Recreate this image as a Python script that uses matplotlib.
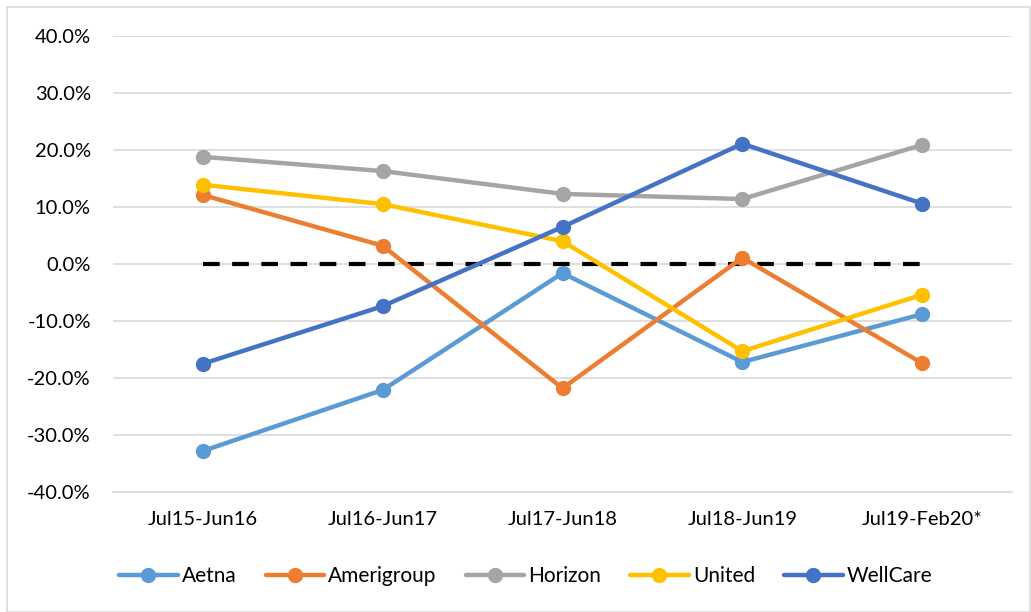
import matplotlib
matplotlib.use("Agg")
import matplotlib.pyplot as plt
from matplotlib.patches import Rectangle
from matplotlib.ticker import FuncFormatter

plt.rcParams['font.family'] = ['Lato', 'DejaVu Sans']

# data
periods = ["Jul15-Jun16", "Jul16-Jun17", "Jul17-Jun18", "Jul18-Jun19", "Jul19-Feb20*"]
aetna = [-32.8, -22.1, -1.6, -17.2, -8.8]
amerigroup = [12.1, 3.2, -21.8, 1.1, -17.4]
horizon = [18.8, 16.3, 12.3, 11.4, 20.9]
united = [13.9, 10.5, 4.0, -15.3, -5.4]
wellcare = [-17.5, -7.4, 6.5, 21.1, 10.6]
baseline = [0, 0, 0, 0, 0]

series = [
    ("Aetna", aetna, "#5B9BD5"),
    ("Amerigroup", amerigroup, "#ED7D31"),
    ("Horizon", horizon, "#A5A5A5"),
    ("United", united, "#FFC000"),
    ("WellCare", wellcare, "#4472C4"),
]

W, H = 1031, 612
fig = plt.figure(figsize=(W / 100, H / 100), dpi=100)
ax = fig.add_axes([113 / W, 1 - 492 / H, (1012 - 113) / W, (492 - 36) / H])

x = list(range(len(periods)))
handles = []
for name, vals, col in series:
    h, = ax.plot(x, vals, color=col, lw=3.2, marker='o', ms=10, label=name,
                 solid_capstyle='round', zorder=3)
    handles.append(h)
# zero reference line
ax.plot(x, baseline, color='black', lw=3, dashes=(4, 3), zorder=2)

ax.set_xlim(-0.5, len(periods) - 0.5)
ax.set_ylim(-40, 40)
ax.set_yticks(range(-40, 41, 10))
ax.yaxis.set_major_formatter(FuncFormatter(lambda v, p: f"{v:.1f}%"))
ax.set_xticks(x)
ax.set_xticklabels(periods)
ax.grid(axis='y', color='#D9D9D9', lw=1.2, zorder=0)
for s in ['top', 'right', 'left']:
    ax.spines[s].set_visible(False)
ax.spines['bottom'].set_color('#D9D9D9')
ax.spines['bottom'].set_linewidth(1.2)
ax.tick_params(axis='both', length=0, labelsize=14.5, colors='black')
ax.tick_params(axis='y', pad=16)
ax.tick_params(axis='x', pad=14)

fig.legend(handles=handles, loc='center', bbox_to_anchor=(0.51, 1 - 576 / H),
           ncol=5, frameon=False, fontsize=15, handlelength=2.8,
           columnspacing=1.4, handletextpad=0.2)

fig.patches.append(Rectangle((7 / W, 0), 1 - 8 / W, 1 - 7 / H, transform=fig.transFigure,
                             fill=False, edgecolor='#D9D9D9', lw=1.2))

fig.savefig("out.png", dpi=100)
